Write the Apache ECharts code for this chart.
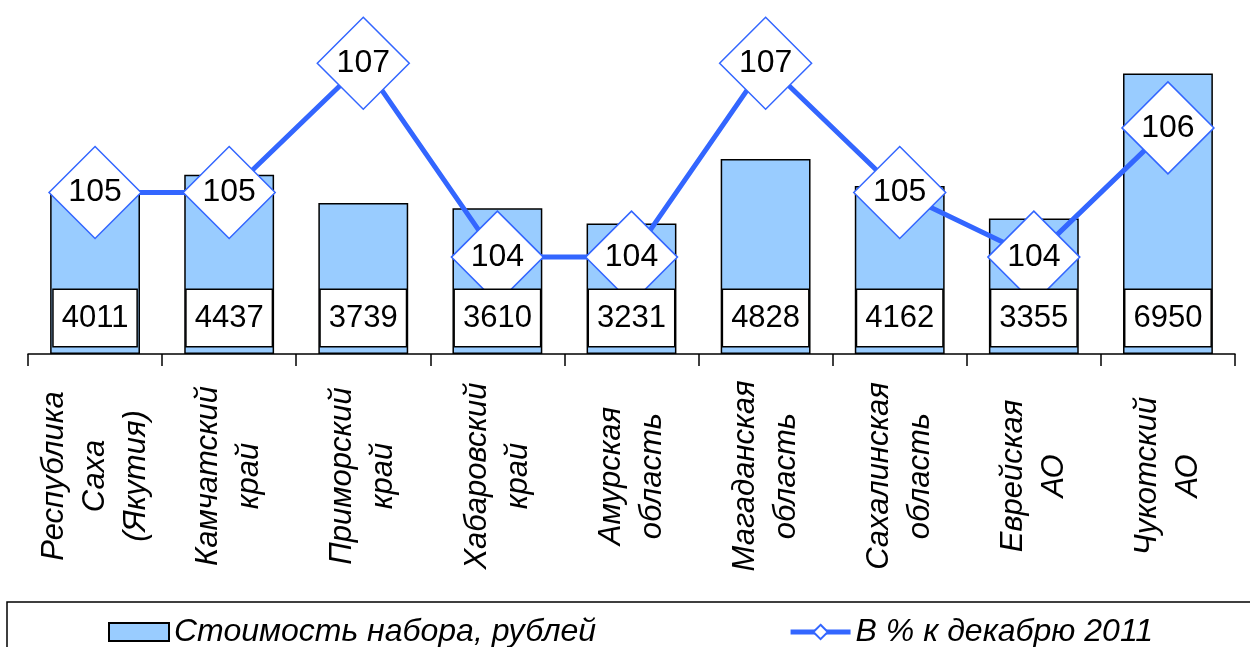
<!DOCTYPE html>
<html>
<head>
<meta charset="utf-8">
<script src="https://cdn.jsdelivr.net/npm/echarts@6/dist/echarts.min.js"></script>
<style>
  html, body { margin: 0; padding: 0; background: #fff; }
  #chart { width: 1250px; height: 647px; }
</style>
</head>
<body>
<div id="chart"></div>
<script>
var regions = ['Республика\nСаха\n(Якутия)', 'Камчатский\nкрай', 'Приморский\nкрай', 'Хабаровский\nкрай',
  'Амурская\nобласть', 'Магаданская\nобласть', 'Сахалинская\nобласть', 'Еврейская\nАО', 'Чукотский\nАО']
var cost = [4011, 4437, 3739, 3610, 3231, 4828, 4162, 3355, 6950]
var pct = [105, 105, 107, 104, 104, 107, 105, 104, 106]

var costName = 'Стоимость набора, рублей'
var pctName = 'В % к декабрю 2011'
var font = 'Liberation Sans, Arial, sans-serif'

var myChart = echarts.init(document.getElementById('chart'))

var option = {
  animation: false,
  textStyle: { fontFamily: font },
  grid: { left: 28, right: 15, top: 31, bottom: 293 },
  legend: {
    data: [
      { name: costName, icon: 'rect' },
      { name: pctName, lineStyle: { width: 5 } }
    ],
    left: 103,
    top: 611,
    itemWidth: 60,
    itemHeight: 18,
    itemGap: 192,
    textStyle: { fontSize: 32, fontStyle: 'italic', color: '#000', fontFamily: font }
  },
  graphic: [{
    type: 'rect',
    shape: { x: 7, y: 602, width: 1300, height: 80 },
    style: { fill: 'none', stroke: '#000', lineWidth: 1.5 }
  }],
  xAxis: {
    type: 'category',
    data: regions,
    axisLine: { lineStyle: { color: '#000', width: 1.5 } },
    axisTick: { show: true, length: 12, lineStyle: { color: '#000', width: 1.5 } },
    axisLabel: {
      rotate: 90,
      interval: 0,
      align: 'center',
      verticalAlign: 'middle',
      margin: 122,
      fontSize: 31,
      lineHeight: 41,
      fontStyle: 'italic',
      color: '#000',
      fontFamily: font
    }
  },
  yAxis: [
    { type: 'value', min: 0, max: 8000, show: false, splitLine: { show: false } },
    { type: 'value', min: 102.5, max: 107.5, show: false, splitLine: { show: false } }
  ],
  series: [
    {
      name: costName,
      type: 'bar',
      data: cost,
      barCategoryGap: '33%',
      z: 2,
      itemStyle: { color: '#99CCFF', borderColor: '#000', borderWidth: 1.5 }
    },
    {
      name: pctName,
      type: 'line',
      yAxisIndex: 1,
      data: pct,
      z: 3,
      symbol: 'diamond',
      symbolSize: 92,
      lineStyle: { color: '#3366FF', width: 5 },
      itemStyle: { color: '#fff', borderColor: '#3366FF', borderWidth: 1.5 },
      label: {
        show: true,
        position: 'inside',
        fontSize: 32,
        color: '#000',
        fontFamily: font,
        formatter: function (p) { return Math.round(p.value) }
      }
    },
    {
      // labels of the cost bars, drawn above the diamonds
      name: 'labels',
      type: 'bar',
      data: cost,
      barGap: '-100%',
      barCategoryGap: '33%',
      z: 4,
      silent: true,
      itemStyle: { color: 'rgba(0,0,0,0)' },
      label: {
        show: true,
        position: 'insideBottom',
        distance: 8,
        fontSize: 31,
        lineHeight: 32,
        color: '#000',
        fontFamily: font,
        backgroundColor: '#fff',
        borderColor: '#000',
        borderWidth: 1.5,
        padding: [12, 8]
      }
    }
  ]
}

window.addEventListener('resize', () => {
  myChart.resize()
})
myChart.setOption(option)
</script>
</body>
</html>
